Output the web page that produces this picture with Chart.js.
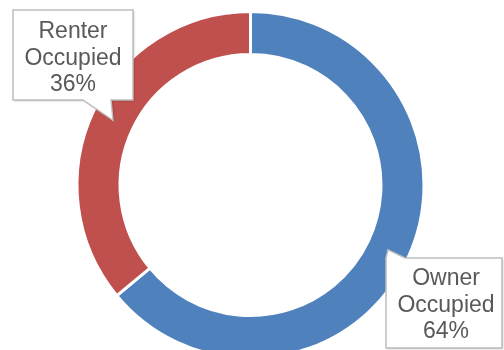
<!DOCTYPE html>
<html>
<head>
<meta charset="utf-8">
<script src="https://cdn.jsdelivr.net/npm/chart.js@4/dist/chart.umd.min.js"></script>
<style>
  html, body { margin: 0; padding: 0; background: #ffffff; overflow: hidden; }
  #wrap { position: relative; width: 504px; height: 360px; }
</style>
</head>
<body>
<div id="wrap"><canvas id="c"></canvas></div>
<script>
const categories = ["Owner Occupied", "Renter Occupied"];
const shares = [64, 36];
const labelLines = [["Owner", "Occupied", "64%"], ["Renter", "Occupied", "36%"]];
const colors = ["#4F81BD", "#C0504D"];

// callout layout: box rect and pointer base points (x coords on the box edge)
const callouts = [
  { box: [386, 258, 502, 348], side: "top", base: [386, 405], textX: 446, baselines: [285, 312, 338] },
  { box: [13, 10, 133, 100], side: "bottom", base: [83, 111], textX: 73, baselines: [38, 65, 91] }
];

const calloutPlugin = {
  id: "callouts",
  afterDatasetsDraw(chart) {
    const ctx = chart.ctx;
    const meta = chart.getDatasetMeta(0);
    meta.data.forEach((arc, i) => {
      const c = callouts[i];
      const tip = arc.tooltipPosition();
      const [x0, y0, x1, y1] = c.box;
      ctx.save();
      ctx.beginPath();
      if (c.side === "top") {
        ctx.moveTo(c.base[0], y0);
        ctx.lineTo(tip.x, tip.y);
        ctx.lineTo(c.base[1], y0);
        ctx.lineTo(x1, y0);
        ctx.lineTo(x1, y1);
        ctx.lineTo(x0, y1);
        ctx.lineTo(x0, y0);
        ctx.closePath();
      } else {
        ctx.moveTo(x0, y0);
        ctx.lineTo(x1, y0);
        ctx.lineTo(x1, y1);
        ctx.lineTo(c.base[1], y1);
        ctx.lineTo(tip.x, tip.y);
        ctx.lineTo(c.base[0], y1);
        ctx.lineTo(x0, y1);
        ctx.closePath();
      }
      ctx.shadowColor = "rgba(0,0,0,0.28)";
      ctx.shadowBlur = 2;
      ctx.shadowOffsetX = 1;
      ctx.shadowOffsetY = 1;
      ctx.fillStyle = "#ffffff";
      ctx.fill();
      ctx.shadowColor = "transparent";
      ctx.lineWidth = 1.5;
      ctx.strokeStyle = "#BFBFBF";
      ctx.stroke();
      ctx.fillStyle = "#595959";
      ctx.font = "23px 'Liberation Sans', Arial, sans-serif";
      ctx.textAlign = "center";
      ctx.textBaseline = "alphabetic";
      labelLines[i].forEach((t, k) => ctx.fillText(t, c.textX, c.baselines[k]));
      ctx.restore();
    });
  }
};

new Chart(document.getElementById("c"), {
  type: "doughnut",
  data: {
    labels: categories,
    datasets: [{
      data: shares,
      backgroundColor: colors,
      borderColor: "#ffffff",
      borderWidth: 3,
      hoverOffset: 0
    }]
  },
  options: {
    responsive: true,
    maintainAspectRatio: false,
    animation: false,
    cutout: "75.2%",
    layout: { padding: { left: 0, right: 3, top: 10, bottom: 0 } },
    plugins: { legend: { display: false }, tooltip: { enabled: false } },
    events: []
  },
  plugins: [calloutPlugin]
});
</script>
</body>
</html>
